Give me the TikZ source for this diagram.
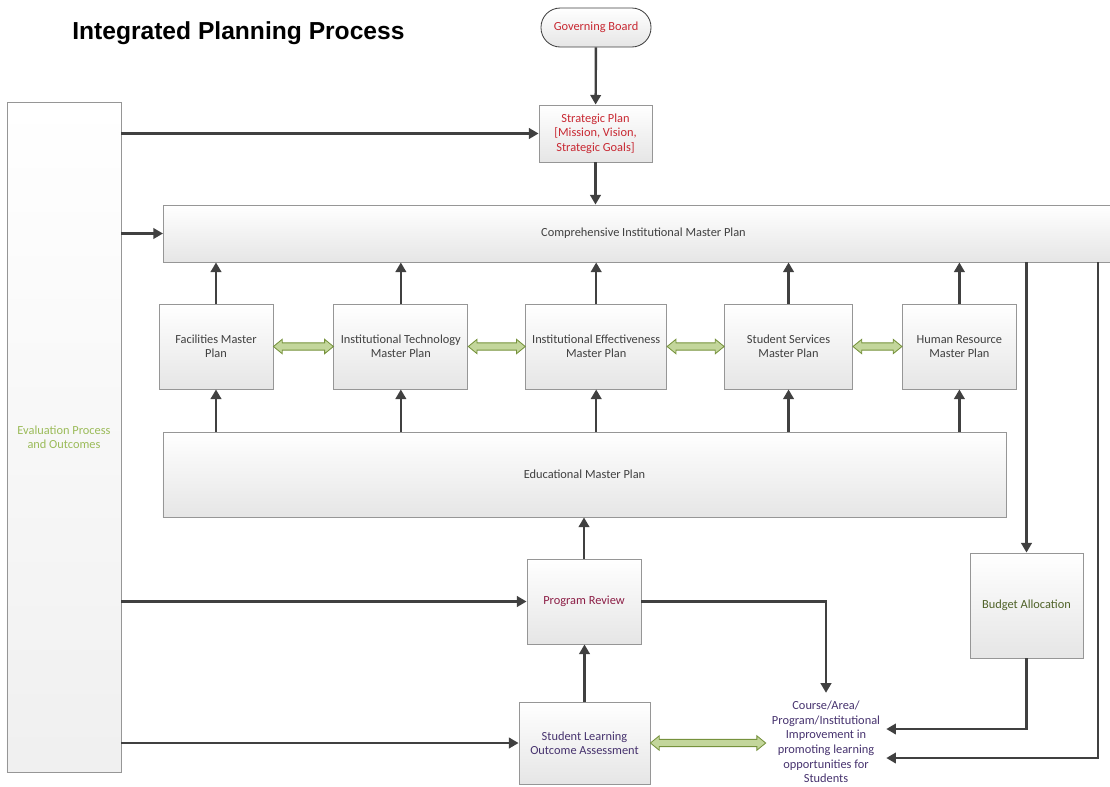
\documentclass[tikz,border=0pt]{standalone}
\usepackage{fontspec}
\setmainfont{Carlito}
\newfontfamily\titlefont{Liberation Sans}
\usepackage{xcolor}
\usetikzlibrary{positioning,arrows.meta,calc}

\definecolor{linegray}{RGB}{64,64,64}
\definecolor{boxline}{RGB}{150,150,150}
\definecolor{boxtext}{RGB}{64,64,64}
\definecolor{redtext}{RGB}{200,40,50}
\definecolor{reviewtext}{RGB}{140,30,70}
\definecolor{budgettext}{RGB}{79,98,40}
\definecolor{coursetext}{RGB}{70,50,110}
\definecolor{evaltext}{RGB}{155,187,89}
\definecolor{arrowfill}{RGB}{195,214,155}
\definecolor{arrowline}{RGB}{118,146,60}

\tikzset{
  box/.style={draw=boxline, line width=0.6pt, top color=white, bottom color=black!10,
    text=boxtext, align=center, font=\fontsize{8.8}{10.2}\selectfont, inner sep=1mm},
  plan/.style={box, minimum height=21.25mm},
  arr/.style={draw=linegray, line width=1.7pt, -{Triangle[length=2.4mm,width=2.6mm]}},
  dbl/.style={draw=arrowline, fill=arrowfill, line width=0.6pt, line join=miter},
}

\newcommand{\dblarrow}[2]{%
  \filldraw[dbl] let \p1=(#1.east), \p2=(#2.west) in
    (\x1,\y1) -- ++(2.2mm,1.8mm) -- ++(0,-0.9mm) -- (\x2-2.2mm,\y1+0.9mm) -- ++(0,0.9mm)
    -- (\x2,\y1) -- ++(-2.2mm,-1.8mm) -- ++(0,0.9mm) -- (\x1+2.2mm,\y1-0.9mm) -- ++(0,-0.9mm) -- cycle;}

\begin{document}
\begin{tikzpicture}[x=0.25mm, y=-0.25mm]
    \useasboundingbox (0,0) rectangle (1110,786);

    \node[anchor=base west, inner sep=0, font=\titlefont\bfseries\fontsize{17.5}{20}\selectfont] (title) at (72,39) {Integrated Planning Process};

    \node[box, rounded corners=4.8mm, draw=linegray, text=redtext, minimum width=27.5mm, minimum height=9.75mm] (board) at (596,27.5) {Governing Board};
    \node[box, text=redtext, minimum width=28.25mm, minimum height=14.25mm] (strat) at (595.5,133.5) {Strategic Plan\\{[}Mission, Vision,\\Strategic Goals]};
    \node[box, text=evaltext, bottom color=black!6, minimum width=28.5mm, minimum height=167.5mm] (eval) at (64,437) {Evaluation Process\\and Outcomes};
    \node[box, anchor=west, minimum width=240mm, minimum height=14.25mm] (cimp) at (163,233.5) {Comprehensive Institutional Master Plan};

    \node[plan, minimum width=28.5mm] (fac) at (216,346.5) {Facilities Master\\Plan};
    \node[plan, minimum width=33.5mm, right=15mm of fac] (tech) {Institutional Technology\\Master Plan};
    \node[plan, minimum width=35.25mm, right=14.25mm of tech] (eff) {Institutional Effectiveness\\Master Plan};
    \node[plan, minimum width=32mm, right=14.25mm of eff] (ss) {Student Services\\Master Plan};
    \node[plan, minimum width=28.5mm, right=12.25mm of ss] (hr) {Human Resource\\Master Plan};

    \node[box, minimum width=210.75mm, minimum height=21.25mm] (edu) at (584.5,474.5) {Educational Master Plan};
    \node[box, text=reviewtext, minimum width=28.5mm, minimum height=21.25mm] (review) at (584,601.5) {Program Review};
    \node[box, text=coursetext, minimum width=32.75mm, minimum height=20.5mm] (slo) at (584.5,743) {Student Learning\\Outcome Assessment};
    \node[box, text=budgettext, minimum width=28.25mm, minimum height=26.25mm] (budget) at (1026.5,605.5) {Budget Allocation};
    \node[text=coursetext, align=center, font=\fontsize{8.8}{10.4}\selectfont, inner xsep=1.5mm, inner ysep=2mm] (course) at (826,742)
        {Course/Area/\\Program/Institutional\\Improvement in\\promoting learning\\opportunities for\\Students};
    \coordinate (rside) at (1098,262);

    \draw[arr] (board) -- (strat);
    \draw[arr] (eval.east |- strat) -- (strat);
    \draw[arr] (eval.east |- cimp) -- (cimp);
    \draw[arr] (strat) -- (strat |- cimp.north);
    \foreach \n in {fac,tech,eff,ss,hr} {
        \draw[arr] (\n) -- (\n |- cimp.south);
        \draw[arr] (\n |- edu.north) -- (\n);
    }
    \dblarrow{fac}{tech}
    \dblarrow{tech}{eff}
    \dblarrow{eff}{ss}
    \dblarrow{ss}{hr}

    \draw[arr] (review) -- (review |- edu.south);
    \draw[arr] (eval.east |- review) -- (review);
    \draw[arr] (eval.east |- slo) -- (slo);
    \draw[arr] (slo) -- (slo |- review.south);
    \draw[arr] (review) -| (course);
    \dblarrow{slo}{course}

    \draw[arr] (cimp.south -| budget) -- (budget);
    \draw[arr] (budget) |- ([yshift=3.25mm]course.east);
    \draw[arr] (cimp.south -| rside) |- ([yshift=-4mm]course.east);
\end{tikzpicture}
\end{document}
